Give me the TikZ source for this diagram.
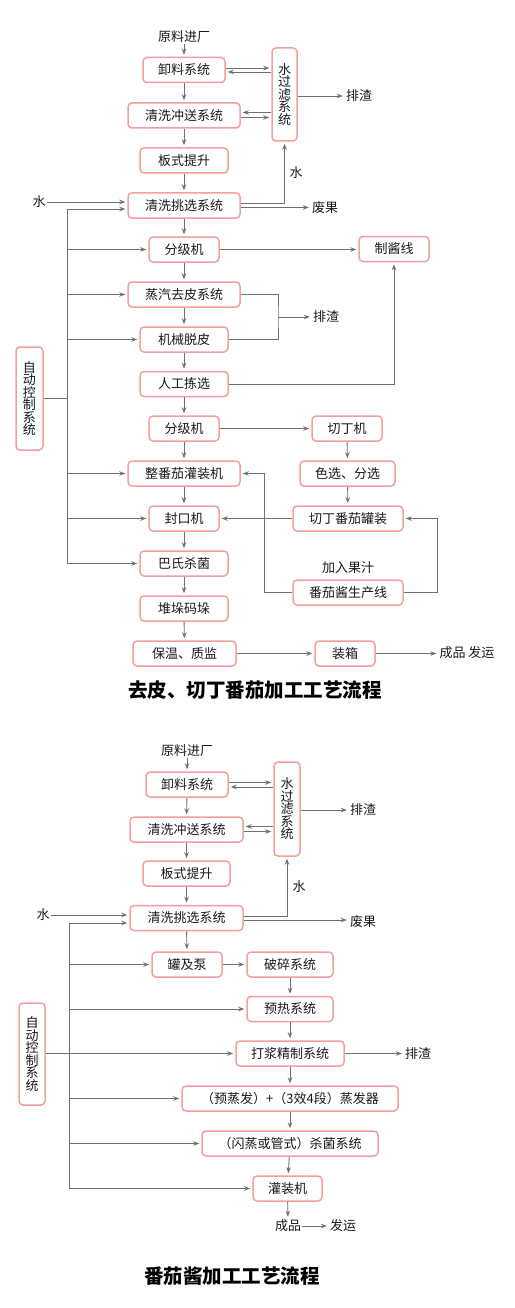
\documentclass[tikz,border=0pt]{standalone}
\usepackage{fontspec}
\setmainfont{Noto Sans CJK SC}
\usepackage{tikz}
\usetikzlibrary{arrows.meta, positioning, calc}
\definecolor{boxpink}{RGB}{245,158,158}
\definecolor{mygray}{RGB}{112,112,112}
\definecolor{mytext}{RGB}{25,25,25}
\tikzset{
  box/.style={rectangle, draw=boxpink, fill=white, text=mytext,
    rounded corners=4pt, line width=1.5pt, minimum height=25pt,
    inner sep=0pt, font=\fontsize{13}{15}\selectfont},
  vbox/.style={box, align=center,
    font={\fontsize{13}{12.5}\selectfont\lineskiplimit=-10pt}},
  lbl/.style={inner sep=1pt, text=mytext, font=\fontsize{13}{15}\selectfont},
  titlelbl/.style={inner sep=1pt, text=black, font=\fontsize{19.5}{22}\selectfont\bfseries},
  arrow/.style={-{Stealth[length=6pt, width=4.5pt]}, line width=0.9pt,
    color=mygray, shorten >=2pt},
  line/.style={line width=0.9pt, color=mygray}
}

\begin{document}
\begin{tikzpicture}[x=1pt, y=-1pt]
  \useasboundingbox (0,0) rectangle (514,1308);

  % ===== Diagram 1: peeled / diced tomato =====
  % Main column
  \node[lbl] (raw1) at (184,37) {原料进厂};
  \node[box, minimum width=82pt] (unload1) at (184,70) {卸料系统};
  \node[box, minimum width=112pt] (wash1) at (184,115.5) {清洗冲送系统};
  \node[box, minimum width=88pt] (lift1) at (184,160.5) {板式提升};
  \node[box, minimum width=112pt] (pick1) at (184,205.5) {清洗挑选系统};
  \node[box, minimum width=70pt] (grade1) at (184,249.5) {分级机};
  \node[box, minimum width=112pt] (peel1) at (184,294.5) {蒸汽去皮系统};
  \node[box, minimum width=88pt] (mech1) at (184,339.5) {机械脱皮};
  \node[box, minimum width=88pt] (manual1) at (184,384) {人工拣选};
  \node[box, minimum width=70pt] (grade2) at (184,428.5) {分级机};
  \node[box, minimum width=112pt] (whole1) at (184,473.5) {整番茄灌装机};
  \node[box, minimum width=70pt] (seal1) at (184,518.5) {封口机};
  \node[box, minimum width=88pt] (past1) at (184,563.5) {巴氏杀菌};
  \node[box, minimum width=88pt] (stack1) at (184,608.5) {堆垛码垛};
  \node[box, minimum width=103pt] (keep1) at (184.5,653.5) {保温、质监};

  % Right side
  \node[vbox, minimum width=25pt, minimum height=93pt] (filter1) at (284.5,94.5) {水\\过\\滤\\系\\统};
  \node[lbl] (drain1) at (359,96) {排渣};
  \node[lbl] (water1) at (296,173) {水};
  \node[lbl] (waste1) at (325,207.5) {废果};
  \node[box, minimum width=70pt] (sauce1) at (394,249) {制酱线};
  \node[lbl] (drain2) at (326,317) {排渣};
  \node[box, minimum width=70pt] (dice1) at (347,428.5) {切丁机};
  \node[box, minimum width=95pt] (sort1) at (347.5,473.5) {色选、分选};
  \node[box, minimum width=110pt] (can1) at (348,518.5) {切丁番茄罐装};
  \node[lbl] (juice1) at (348,568) {加入果汁};
  \node[box, minimum width=110pt] (line1) at (348,592.5) {番茄酱生产线};
  \node[box, minimum width=60pt] (pack1) at (345,653.5) {装箱};
  \node[lbl] (done1) at (467,653) {成品 发运};

  % Left side
  \node[lbl] (waterin1) at (39,202) {水};
  \node[vbox, minimum width=27pt, minimum height=103pt] (ctrl1) at (29.5,398.5) {自\\动\\控\\制\\系\\统};
  \node[titlelbl] (title1) at (255,690) {去皮、切丁番茄加工工艺流程};

  % Flow down the main column
  \draw[arrow] (raw1) -- (unload1);
  \foreach \a/\b in {unload1/wash1, wash1/lift1, lift1/pick1, pick1/grade1,
    grade1/peel1, peel1/mech1, mech1/manual1, manual1/grade2, grade2/whole1,
    whole1/seal1, seal1/past1, past1/stack1, stack1/keep1}
    \draw[arrow] (\a) -- (\b);

  % Water filter loop
  \draw[arrow] ([yshift=2pt]unload1.east) -- ([yshift=2pt]unload1.east -| filter1.west);
  \draw[arrow] ([yshift=-2pt]unload1.east -| filter1.west) -- ([yshift=-2pt]unload1.east);
  \draw[arrow] ([yshift=3pt]wash1.east -| filter1.west) -- ([yshift=3pt]wash1.east);
  \draw[arrow] ([yshift=-2pt]wash1.east) -- ([yshift=-2pt]wash1.east -| filter1.west);
  \draw[arrow] (filter1.east |- drain1) -- (drain1.west);
  \draw[arrow] ([yshift=2.5pt]pick1.east) -| (filter1.south);
  \draw[arrow] ([yshift=-2pt]pick1.east) -- ([yshift=-2pt]pick1.east -| waste1.west);
  \draw[arrow] (waterin1.east) -- (waterin1.east -| pick1.west);

  % Peeling waste and sauce line
  \draw[arrow] (grade1) -- (grade1 -| sauce1.west);
  \coordinate (junc1) at (278,317);
  \draw[line] (peel1.east) -| (junc1) |- (mech1.east);
  \draw[arrow] (junc1) -- (drain2.west);
  \draw[arrow] (manual1.east) -| (sauce1.south);

  % Diced branch
  \draw[arrow] (grade2) -- (grade2 -| dice1.west);
  \draw[arrow] (dice1) -- (sort1);
  \draw[arrow] (sort1) -- (can1);
  \draw[arrow] (can1.west) -- (can1.west -| seal1.east);
  \draw[arrow] (line1.west) -- ++(-28,0) |- (whole1.east);
  \draw[arrow] (line1.east) -- ++(34,0) |- (can1.east);
  \draw[arrow] (keep1) -- (keep1 -| pack1.west);
  \draw[arrow] (pack1) -- (pack1 -| done1.west);

  % Control bus
  \coordinate (bus1t) at (67,209);
  \draw[line] (bus1t) -- (bus1t |- past1);
  \draw[line] (ctrl1.east) -- (ctrl1.east -| bus1t);
  \draw[arrow] (bus1t) -- (bus1t -| pick1.west);
  \foreach \n in {grade1, peel1, mech1, whole1, seal1, past1}
    \draw[arrow] (bus1t |- \n.west) -- (\n.west);

  % ===== Diagram 2: tomato paste =====
  \node[lbl] (raw2) at (187,751) {原料进厂};
  \node[box, minimum width=82pt] (unload2) at (187,784.5) {卸料系统};
  \node[box, minimum width=113pt] (wash2) at (186.5,829.5) {清洗冲送系统};
  \node[box, minimum width=87pt] (lift2) at (186.5,873.5) {板式提升};
  \node[box, minimum width=113pt] (pick2) at (186.5,918) {清洗挑选系统};
  \node[box, minimum width=70pt] (tank2) at (187,964.5) {罐及泵};
  \node[box, minimum width=86pt] (crush2) at (290,964.5) {破碎系统};
  \node[box, minimum width=86pt] (preheat2) at (290,1009) {预热系统};
  \node[box, minimum width=108pt] (pulp2) at (290,1053.5) {打浆精制系统};
  \node[box, minimum width=216pt] (evap2) at (290,1098.5) {（预蒸发）+（3效4段）蒸发器};
  \node[box, minimum width=176pt] (steril2) at (290,1143.5) {（闪蒸或管式）杀菌系统};
  \node[box, minimum width=69pt] (fill2) at (287.5,1188.5) {灌装机};
  \node[lbl] (prod2) at (288,1226) {成品};
  \node[lbl] (ship2) at (343,1226) {发运};

  \node[vbox, minimum width=26pt, minimum height=94pt] (filter2) at (287,809) {水\\过\\滤\\系\\统};
  \node[lbl] (drain3) at (363,810) {排渣};
  \node[lbl] (water2) at (299,887) {水};
  \node[lbl] (waste2) at (363,922) {废果};
  \node[lbl] (drain4) at (418,1054) {排渣};
  \node[lbl] (waterin2) at (43,915) {水};
  \node[vbox, minimum width=26pt, minimum height=102pt] (ctrl2) at (32,1054) {自\\动\\控\\制\\系\\统};
  \node[titlelbl] (title2) at (232,1276) {番茄酱加工工艺流程};

  % Flow
  \foreach \a/\b in {raw2/unload2, unload2/wash2, wash2/lift2, lift2/pick2,
    pick2/tank2, crush2/preheat2, preheat2/pulp2, pulp2/evap2,
    evap2/steril2, steril2/fill2, fill2/prod2}
    \draw[arrow] (\a) -- (\b);
  \draw[arrow] (tank2) -- (crush2);
  \draw[arrow] (prod2) -- (ship2);
  \draw[arrow] (pulp2) -- (pulp2 -| drain4.west);

  % Water filter loop
  \draw[arrow] ([yshift=2pt]unload2.east) -- ([yshift=2pt]unload2.east -| filter2.west);
  \draw[arrow] ([yshift=-2.5pt]unload2.east -| filter2.west) -- ([yshift=-2.5pt]unload2.east);
  \draw[arrow] ([yshift=3pt]wash2.east -| filter2.west) -- ([yshift=3pt]wash2.east);
  \draw[arrow] ([yshift=-2pt]wash2.east) -- ([yshift=-2pt]wash2.east -| filter2.west);
  \draw[arrow] (filter2.east |- drain3) -- (drain3.west);
  \draw[arrow] ([yshift=1.5pt]pick2.east) -| (filter2.south);
  \draw[arrow] ([yshift=-2pt]pick2.east) -- ([yshift=-2pt]pick2.east -| waste2.west);
  \draw[arrow] (waterin2.east) -- (waterin2.east -| pick2.west);

  % Control bus
  \coordinate (bus2t) at (69,923);
  \draw[line] (bus2t) -- (bus2t |- fill2);
  \draw[arrow] (bus2t) -- (bus2t -| pick2.west);
  \draw[arrow] (ctrl2.east |- pulp2) -- (pulp2.west);
  \foreach \n in {tank2, preheat2, evap2, steril2, fill2}
    \draw[arrow] (bus2t |- \n.west) -- (\n.west);
\end{tikzpicture}
\end{document}
